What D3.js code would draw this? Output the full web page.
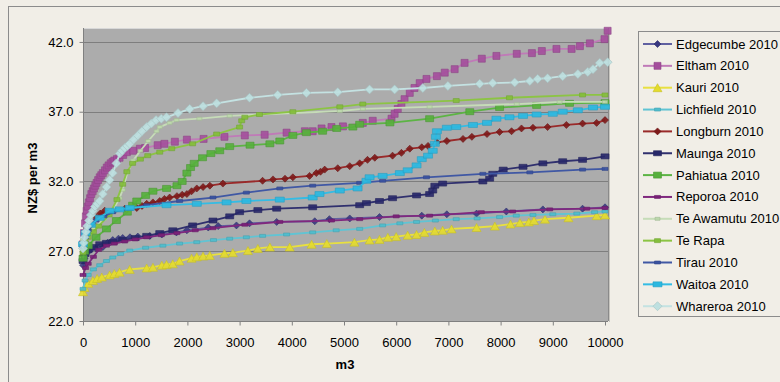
<!DOCTYPE html>
<html><head><meta charset="utf-8">
<script src="https://cdn.jsdelivr.net/npm/d3@7"></script>
<style>body{margin:0;background:#f1eee7;}svg{display:block;font-family:"Liberation Sans",Arial,sans-serif;}</style>
</head><body>
<svg id="c" width="780" height="382"></svg>
<script>
const seriesNames = ["Edgecumbe 2010","Eltham 2010","Kauri 2010","Lichfield 2010","Longburn 2010","Maunga 2010","Pahiatua 2010","Reporoa 2010","Te Awamutu 2010","Te Rapa","Tirau 2010","Waitoa 2010","Whareroa 2010"];
const xTicks = [0,1000,2000,3000,4000,5000,6000,7000,8000,9000,10000];
const yTicks = [22,27,32,37,42];

const edgecumbe = [[0,26.0],[30,26.5],[80,26.9],[150,27.1],[250,27.2],[380,27.3],[470,27.6],[570,27.8],[680,27.9],[760,27.95],[900,28.0],[1050,28.05],[1280,28.1],[1510,28.2],[1790,28.35],[1990,28.5],[2400,28.7],[2590,28.8],[2940,28.85],[3190,29.0],[3710,29.1],[4440,29.15],[4720,29.3],[5110,29.35],[5680,29.45],[6490,29.55],[6970,29.65],[7540,29.7],[8110,29.85],[8810,30.0],[9570,30.05],[10000,30.15]];
const eltham = [[0,27.5],[20,28.3],[40,29.0],[55,29.5],[70,29.9],[90,30.2],[110,30.5],[135,30.8],[160,31.1],[185,31.3],[210,31.5],[235,31.7],[260,31.9],[290,32.1],[320,32.3],[350,32.45],[380,32.6],[420,32.8],[455,33.0],[490,33.15],[530,33.3],[565,33.4],[600,33.5],[650,33.6],[700,33.7],[770,33.9],[840,34.1],[960,34.2],[1090,34.35],[1190,34.4],[1430,34.6],[1560,34.7],[1760,34.85],[1990,35.0],[2310,35.05],[2710,35.2],[3100,35.3],[3480,35.35],[3900,35.5],[4250,35.6],[4400,35.6],[4570,35.8],[4760,35.9],[4980,35.95],[5360,36.2],[5550,36.35],[5910,36.5],[5970,36.85],[6030,37.2],[6100,37.55],[6160,37.9],[6260,38.35],[6350,38.7],[6450,39.05],[6580,39.35],[6780,39.55],[6930,39.8],[7120,40.05],[7310,40.5],[7640,40.8],[7920,41.0],[8310,41.15],[8600,41.2],[8790,41.35],[9070,41.5],[9360,41.5],[9520,41.7],[9710,41.9],[9990,42.2],[10050,42.8]];
const kauri = [[0,24.1],[30,24.4],[100,24.7],[190,24.9],[270,25.05],[360,25.15],[510,25.3],[600,25.4],[700,25.5],[895,25.7],[1220,25.8],[1340,25.85],[1510,26.0],[1600,26.05],[1720,26.1],[1850,26.3],[2080,26.5],[2180,26.6],[2300,26.65],[2430,26.7],[2710,26.85],[2870,26.9],[3160,27.05],[3350,27.2],[3580,27.3],[3960,27.3],[4380,27.5],[4670,27.55],[5200,27.65],[5490,27.8],[5680,27.85],[5840,28.0],[6000,28.05],[6220,28.15],[6390,28.2],[6540,28.35],[6740,28.45],[6890,28.5],[7060,28.6],[7540,28.7],[7890,28.8],[8190,28.95],[8370,29.05],[8540,29.1],[8640,29.2],[8850,29.3],[9300,29.4],[9840,29.55],[10000,29.6]];
const lichfield = [[0,24.3],[40,24.9],[100,25.3],[200,25.7],[320,26.0],[450,26.3],[570,26.55],[720,26.8],[895,27.05],[1200,27.25],[1530,27.4],[1850,27.55],[2180,27.65],[2500,27.8],[2810,27.9],[3130,28.0],[3440,28.1],[3900,28.2],[4400,28.35],[4850,28.5],[5300,28.6],[5740,28.85],[6070,29.0],[6390,29.1],[6750,29.2],[7150,29.3],[7550,29.35],[7980,29.45],[8300,29.55],[8620,29.6],[9000,29.65],[9460,29.7],[9800,29.8],[10000,29.85]];
const longburn = [[0,26.7],[30,27.5],[60,28.1],[110,28.6],[180,29.0],[260,29.4],[330,29.7],[415,29.9],[600,29.95],[800,30.05],[1030,30.1],[1130,30.25],[1220,30.4],[1340,30.5],[1470,30.6],[1560,30.75],[1660,30.85],[1800,30.95],[1900,31.05],[1990,31.1],[2080,31.3],[2180,31.5],[2300,31.6],[2430,31.7],[2680,31.85],[3440,32.05],[3640,32.15],[3870,32.2],[4020,32.3],[4340,32.4],[4470,32.6],[4550,32.7],[4630,32.85],[4880,32.95],[5110,33.1],[5300,33.3],[5450,33.55],[5590,33.7],[5930,33.85],[6100,34.05],[6260,34.35],[6490,34.45],[6610,34.55],[6780,34.8],[6970,34.9],[7280,35.05],[7450,35.2],[7740,35.4],[7980,35.55],[8210,35.6],[8400,35.8],[8620,35.85],[8900,35.9],[9260,36.05],[9570,36.15],[9840,36.2],[10000,36.4]];
const maunga = [[0,26.3],[40,26.8],[100,27.1],[200,27.3],[320,27.5],[450,27.6],[570,27.65],[760,27.8],[1000,27.95],[1220,28.1],[1470,28.3],[1720,28.5],[2100,28.85],[2490,29.2],[2810,29.5],[3000,29.8],[3350,29.95],[3710,30.05],[4400,30.15],[5300,30.3],[5430,30.45],[5680,30.6],[5930,30.8],[6390,31.0],[6640,31.1],[6700,31.35],[6740,31.7],[6890,31.85],[7660,32.0],[7790,32.2],[7850,32.55],[8050,32.85],[8430,33.05],[8810,33.3],[9190,33.45],[9570,33.55],[10000,33.8]];
const pahiatua = [[0,26.5],[30,27.0],[100,27.4],[250,28.0],[450,28.6],[640,29.2],[850,29.8],[950,30.3],[1030,30.6],[1200,31.0],[1340,31.3],[1600,31.5],[1800,31.7],[1900,32.0],[1990,32.6],[2060,33.0],[2130,33.3],[2290,33.7],[2450,34.0],[2620,34.2],[2810,34.5],[3200,34.6],[3580,34.7],[3770,34.9],[4020,35.3],[4280,35.5],[4590,35.6],[4860,35.8],[5170,35.9],[5300,36.1],[5880,36.2],[6640,36.5],[7410,37.0],[7980,37.3],[8690,37.45],[9320,37.6],[10000,37.65]];
const reporoa = [[0,25.3],[50,25.8],[100,26.1],[200,26.6],[300,27.1],[450,27.4],[600,27.55],[800,27.7],[1000,27.85],[1220,28.0],[1500,28.15],[1800,28.3],[2150,28.5],[2490,28.65],[3100,28.9],[3770,29.1],[4760,29.2],[5300,29.3],[6000,29.5],[6640,29.55],[7630,29.8],[8230,29.85],[8940,30.0],[9650,30.05],[10000,30.1]];
const teAwamutu = [[0,27.8],[100,28.3],[200,28.6],[400,29.3],[570,29.9],[700,30.8],[760,31.4],[850,32.6],[960,33.5],[1100,34.2],[1250,34.9],[1410,35.6],[1470,35.9],[1660,36.2],[1790,36.4],[2230,36.5],[2810,36.7],[3380,36.8],[4020,36.9],[4920,37.05],[5360,37.2],[6640,37.35],[8310,37.55],[9130,37.7],[10000,37.7]];
const teRapa = [[0,26.9],[50,27.6],[100,28.0],[200,28.4],[300,28.8],[500,29.6],[650,30.7],[760,31.8],[840,32.7],[950,33.3],[1100,33.6],[1240,33.85],[1470,34.1],[1700,34.35],[2100,34.7],[2560,35.4],[3000,35.9],[3040,36.35],[3100,36.6],[3380,36.8],[4020,37.0],[4920,37.35],[5360,37.55],[7150,37.8],[8170,38.0],[9570,38.2],[10000,38.2]];
const tirau = [[0,27.3],[50,28.0],[100,28.5],[250,29.2],[400,29.5],[570,29.8],[900,30.05],[1220,30.3],[1850,30.6],[2490,30.85],[3130,31.2],[3770,31.5],[4400,31.7],[5300,31.9],[5740,32.05],[6580,32.3],[7660,32.55],[8560,32.65],[9570,32.85],[10000,32.9]];
const waitoa = [[0,27.5],[50,28.3],[150,28.9],[320,29.4],[510,29.9],[700,30.0],[895,30.1],[1600,30.3],[2180,30.4],[2750,30.5],[3130,30.6],[3770,30.7],[4400,30.85],[4530,31.1],[4920,31.35],[5260,31.5],[5430,32.05],[5490,32.3],[5740,32.4],[6070,32.6],[6220,32.8],[6390,33.15],[6490,33.6],[6610,33.85],[6700,34.2],[6740,34.7],[6760,35.2],[6780,35.6],[6970,35.85],[7150,35.9],[7470,36.05],[7740,36.2],[7920,36.5],[8170,36.6],[8430,36.7],[8690,36.8],[9000,36.85],[9190,37.0],[9480,37.1],[9770,37.3],[10000,37.35]];
const whareroa = [[0,27.2],[15,27.6],[30,28.0],[55,28.4],[80,28.8],[115,29.2],[150,29.6],[190,29.9],[230,30.2],[275,30.4],[320,30.6],[380,31.1],[450,31.6],[510,32.1],[570,32.6],[640,33.3],[705,34.0],[750,34.2],[800,34.4],[850,34.55],[895,34.7],[970,35.0],[1050,35.3],[1130,35.6],[1220,35.9],[1310,36.15],[1400,36.4],[1500,36.5],[1600,36.6],[1820,36.9],[2045,37.2],[2300,37.4],[2560,37.6],[3190,38.0],[3730,38.2],[4280,38.35],[4880,38.4],[5490,38.6],[5970,38.6],[6510,38.7],[6990,38.85],[7600,39.0],[7850,39.05],[8270,39.1],[8560,39.2],[8710,39.35],[8900,39.4],[9190,39.55],[9480,39.7],[9670,39.85],[9770,40.05],[9900,40.5],[10050,40.55]];

const seriesData = [edgecumbe,eltham,kauri,lichfield,longburn,maunga,pahiatua,reporoa,teAwamutu,teRapa,tirau,waitoa,whareroa];

// styles
const lineColors = ["#6060a0","#c07ab8","#e8e040","#60c4d4","#9a2a2a","#30306e","#5cb444","#80287e","#c6dcb8","#8cc444","#4058a4","#34bce4","#c4e2e2"];
const markColors = ["#383880","#a44e9c","#e4dc2c","#50bccc","#7e1a1a","#28286a","#56b03c","#7a2078","#bcd8ac","#84be3c","#3a52a0","#2cb8e0","#bee0e0"];
const markShapes = ["diamond","square","triangle","rect","diamond","rect","square","rect","rect","rect","rect","rect","diamond"];
const markW = [7,7,9,6,7,8,8,6,5,6,6,9,9];
const markH = [7,7,8,3,7,5,6,3,3,4,3,5,9];

const svg = d3.select("#c");
const L = 83, R = 608, T = 28, B = 321;
const x = d3.scaleLinear().domain([0,10000]).range([L,605]);
const y = d3.scaleLinear().domain([22,43]).range([B,T]);

// outer chart border
svg.append("rect").attr("x",8.5).attr("y",6.5).attr("width",820).attr("height",420).attr("fill","#f1eee7").attr("stroke","#8c8c8c");

// plot area
svg.append("rect").attr("x",L).attr("y",T).attr("width",R-L).attr("height",B-T).attr("fill","#acacac");
svg.append("line").attr("x1",L).attr("x2",R).attr("y1",T+0.5).attr("y2",T+0.5).attr("stroke","#d8d8d8");
svg.append("line").attr("x1",R+0.5).attr("x2",R+0.5).attr("y1",T).attr("y2",B).attr("stroke","#8a8a8a");
svg.append("line").attr("x1",R+1.5).attr("x2",R+1.5).attr("y1",T+2).attr("y2",B+1).attr("stroke","#c8c6c0");

// gridlines
svg.append("g").selectAll("line").data(yTicks.slice(1)).join("line")
  .attr("x1",L).attr("x2",R).attr("y1",d=>Math.round(y(d))+0.5).attr("y2",d=>Math.round(y(d))+0.5)
  .attr("stroke","#7e7e7e").attr("stroke-width",1);

// axes
const yAxis = d3.axisLeft(y).tickValues(yTicks).tickFormat(d3.format(".1f")).tickSize(4).tickPadding(6);
const gy = svg.append("g").attr("transform",`translate(${L+0.5},0)`).call(yAxis);
const xAxis = d3.axisBottom(x).tickValues(xTicks).tickFormat(d=>d).tickSize(4).tickPadding(12);
const gx = svg.append("g").attr("transform",`translate(0,${B+0.5})`).call(xAxis);
[gy,gx].forEach(g=>{
  g.select(".domain").attr("stroke","#808080");
  g.selectAll(".tick line").attr("stroke","#808080");
  g.selectAll("text").attr("fill","#000").style("font-size","13px").style("font-family","'Liberation Sans',Arial,sans-serif");
});
gx.select(".domain").attr("d",`M${L},0H${R}`);
gy.select(".domain").attr("d",`M0,${T}V${B}`);

// titles
svg.append("text").attr("x",345).attr("y",369).attr("text-anchor","middle").attr("font-weight","bold").attr("font-size","13px").text("m3");
svg.append("text").attr("transform","translate(37,178) rotate(-90)").attr("text-anchor","middle").attr("font-weight","bold").attr("font-size","13px").text("NZ$ per m3");

function markerPath(shape,w,h){
  if(shape==="diamond") return `M0,${-h/2}L${w/2},0L0,${h/2}L${-w/2},0Z`;
  if(shape==="triangle") return `M0,${-h/2}L${w/2},${h/2}L${-w/2},${h/2}Z`;
  return `M${-w/2},${-h/2}h${w}v${h}h${-w}Z`;
}

const line = d3.line().x(d=>x(d[0])).y(d=>y(d[1]));
const plot = svg.append("g");
seriesData.forEach((data,i)=>{
  const g = plot.append("g");
  g.append("path").datum(data).attr("d",line).attr("fill","none").attr("stroke",lineColors[i]).attr("stroke-width",1.8);
  g.selectAll("path.m").data(data).join("path").attr("class","m")
    .attr("d",markerPath(markShapes[i],markW[i],markH[i]))
    .attr("transform",d=>`translate(${x(d[0])},${y(d[1])})`)
    .attr("fill",markColors[i]).attr("fill-opacity",0.9)
    .attr("stroke",d3.color(markColors[i]).darker(0.4)).attr("stroke-width",0.6);
});

// legend
const lg = svg.append("g");
lg.append("rect").attr("x",638.5).attr("y",31.5).attr("width",160).attr("height",285).attr("fill","#f1eee7").attr("stroke","#8c8c8c");
seriesNames.forEach((name,i)=>{
  const cy = 44 + i*21.85;
  lg.append("line").attr("x1",643).attr("x2",672).attr("y1",cy).attr("y2",cy).attr("stroke",lineColors[i]).attr("stroke-width",2);
  lg.append("path").attr("d",markerPath(markShapes[i],markW[i],markH[i])).attr("transform",`translate(657.5,${cy})`)
    .attr("fill",markColors[i]).attr("stroke",d3.color(markColors[i]).darker(0.4)).attr("stroke-width",0.6);
  lg.append("text").attr("x",676).attr("y",cy+4.5).attr("font-size","13px").attr("fill","#000").text(name);
});
</script>
</body></html>
